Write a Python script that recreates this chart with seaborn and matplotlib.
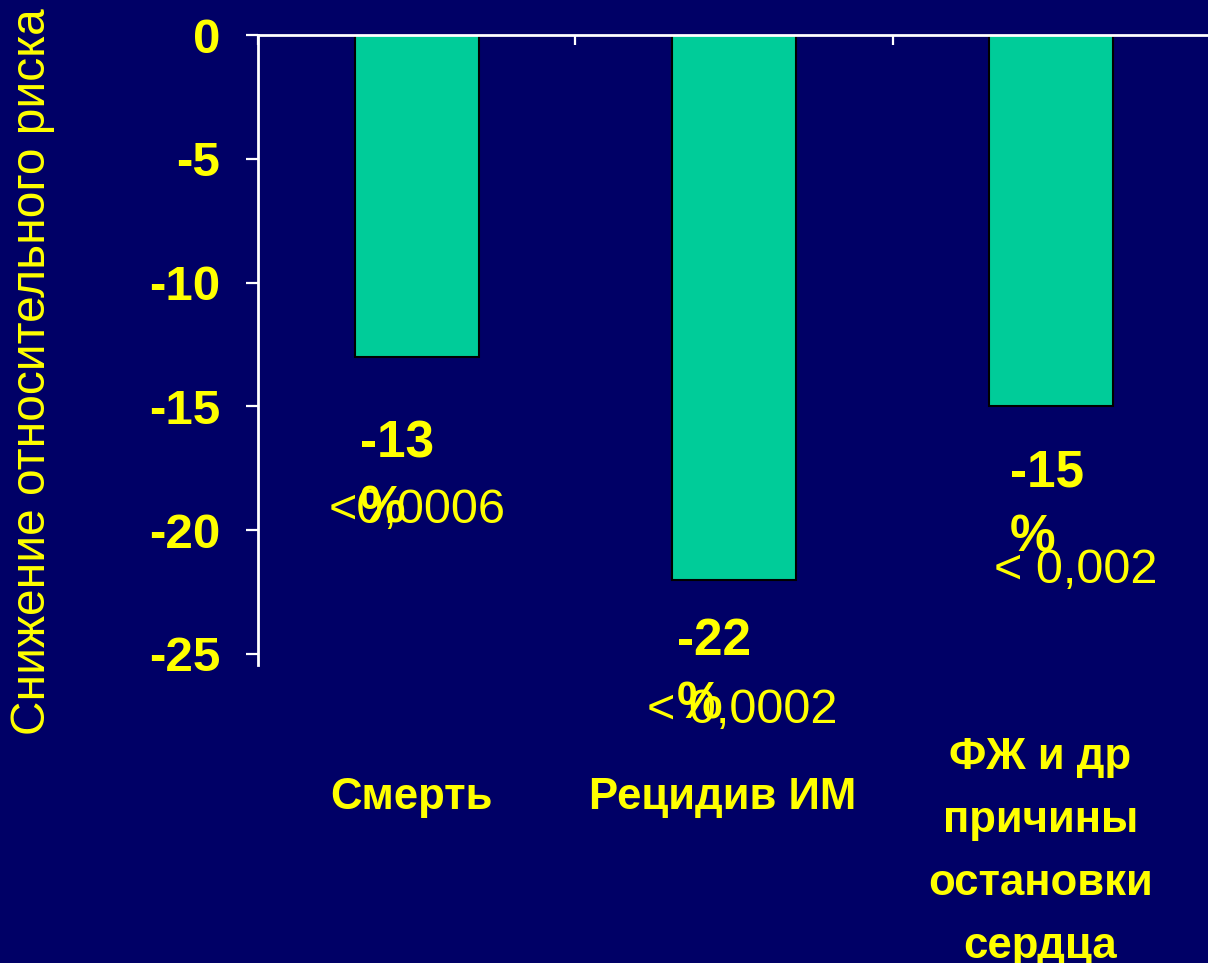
import pandas as pd
import seaborn as sns
import matplotlib.pyplot as plt

categories = ['Смерть', 'Рецидив ИМ', 'ФЖ и др\nпричины\nостановки\nсердца']
values = [-13, -22, -15]
p_values = ['<0,0006', '< 0,0002', '< 0,002']
y_ticks = [0, -5, -10, -15, -20, -25]

BG = '#000066'
BAR = '#00CC99'
YELLOW = '#FFFF00'

# label placement (offsets from bar centre, in category units / value units)
pct_pos = [(-0.18, -15.55), (-0.18, -23.5), (-0.13, -16.72)]
p_pos = [(0.0, -19.2), (0.025, -27.3), (0.076, -21.65)]
cat_dx = [-0.016, -0.035, -0.035]
cat_y = [-0.21, -0.21, -0.115]
cat_va = ['center', 'center', 'top']


def bar_plot(df, file_name):
    sns.set_style('white')
    plt.rcParams['font.family'] = ['Liberation Sans', 'DejaVu Sans']

    fig = plt.figure(figsize=(12.08, 9.63), dpi=100, facecolor=BG)
    ax = fig.add_axes([258 / 1208, 1 - 665 / 963, 952 / 1208, 630 / 963])
    ax.set_facecolor(BG)

    sns.barplot(data=df, x='Category', y='Value', color=BAR, width=0.39,
                edgecolor='black', linewidth=1.5, saturation=1, ax=ax)

    ax.set_xlim(-0.5, 2.5)
    ax.set_ylim(-25.45, 0)

    for s in ['bottom', 'right']:
        ax.spines[s].set_visible(False)
    for s in ['left', 'top']:
        ax.spines[s].set_color('white')
        ax.spines[s].set_linewidth(2)

    ax.set_yticks(y_ticks)
    ax.set_yticklabels([str(t) for t in y_ticks], fontsize=35.5,
                       fontweight='bold', color=YELLOW)
    ax.tick_params(axis='y', direction='out', length=9, width=1.6,
                   color='white', pad=18, left=True)

    ax.xaxis.set_ticks_position('top')
    ax.set_xticks([])
    ax.set_xticks([-0.5, 0.5, 1.5], minor=True)
    ax.tick_params(axis='x', which='minor', direction='in', length=7,
                   width=1.6, color='white', top=True, labeltop=False)
    ax.set_xlabel('')
    ax.set_ylabel('')

    fig.text(33 / 1208, 1 - 372 / 963, 'Снижение относительного риска',
             rotation=90, ha='center', va='center', fontsize=34.5,
             color=YELLOW)

    trans = ax.get_xaxis_transform()
    for i, cat in enumerate(categories):
        ax.text(i + cat_dx[i], cat_y[i], cat, transform=trans, ha='center',
                va=cat_va[i], fontsize=31.5, fontweight='bold',
                color=YELLOW, linespacing=1.68)

    for i, v in enumerate(values):
        dx, y = pct_pos[i]
        ax.text(i + dx, y, f'{v}\n%', ha='left', va='top', fontsize=37,
                fontweight='bold', color=YELLOW, linespacing=1.4,
                clip_on=False)
        dx, y = p_pos[i]
        ax.text(i + dx, y, p_values[i], ha='center', va='center',
                fontsize=35, color=YELLOW, clip_on=False)

    fig.savefig(file_name, dpi=100, facecolor=BG)
    plt.close(fig)


def main():
    df = pd.DataFrame({'Category': categories, 'Value': values})
    bar_plot(df, 'out.png')


if __name__ == '__main__':
    main()
